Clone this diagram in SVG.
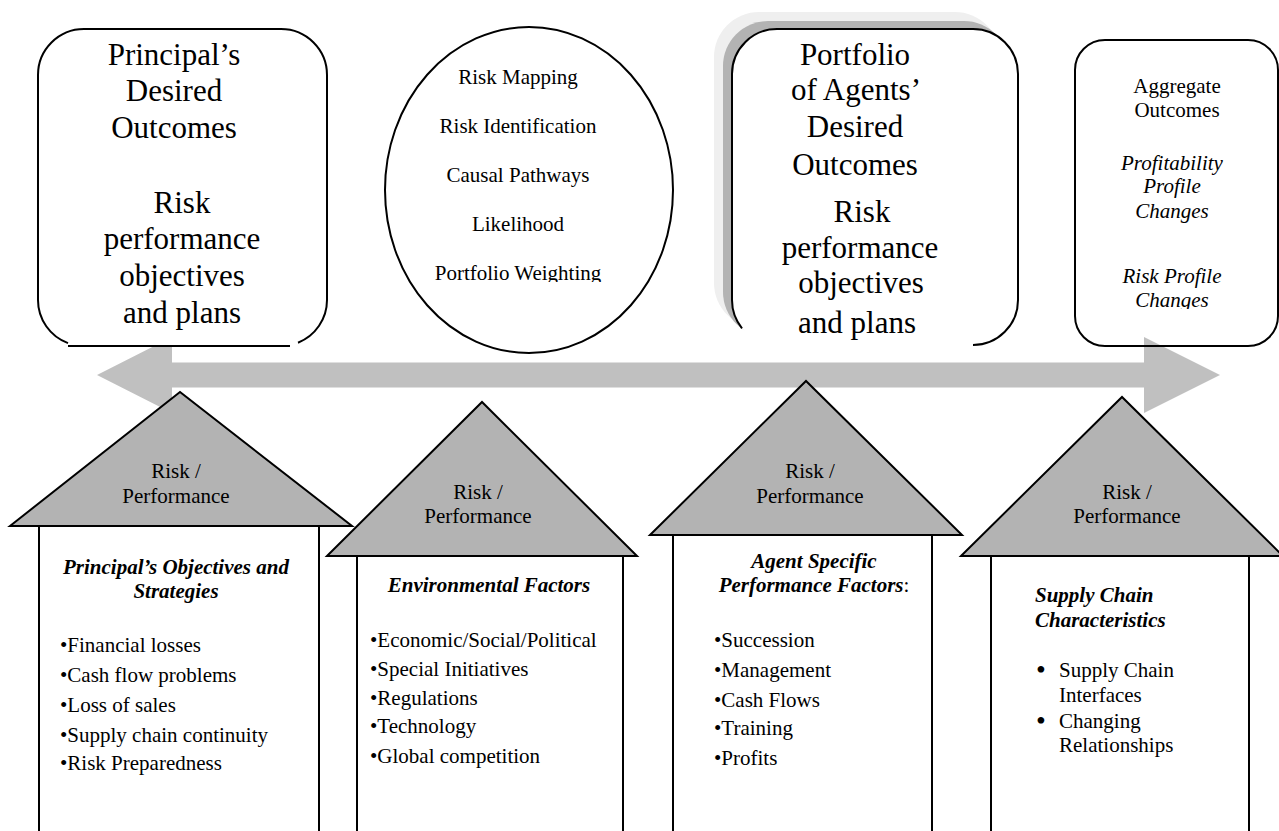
<svg xmlns="http://www.w3.org/2000/svg" width="1279" height="831" viewBox="0 0 1279 831">
<style>
text{font-family:"Liberation Serif","Times New Roman",serif;fill:#000}
.big{font-size:31px;text-anchor:middle}
.md{font-size:21px}
.c{text-anchor:middle}
.bi{font-weight:bold;font-style:italic}
.it{font-style:italic}
.ln{fill:none;stroke:#000;stroke-width:2}
.roof{fill:#b3b3b3;stroke:#000;stroke-width:2;stroke-linejoin:miter}
.body{fill:#fff;stroke:#000;stroke-width:2}
.dot{font-size:28px}
</style>
<defs>
<clipPath id="clipCircle"><rect x="380" y="20" width="300" height="262"/></clipPath>
<clipPath id="clipAgg"><rect x="1075" y="40" width="204" height="269"/></clipPath>
</defs>

<g id="connectors">
<polygon points="97,375 172,337 172,362.5 1144,362.5 1144,337 1220,375 1144,413 1144,387.5 172,387.5 172,413" fill="#c0c0c0"/>
</g>

<g id="principal-outcomes">
<rect x="38" y="29" width="289" height="317" rx="46" fill="#fff"/>
<path class="ln" d="M68 343.1A46 46 0 0 1 38 300V75A46 46 0 0 1 84 29H281A46 46 0 0 1 327 75V300A46 46 0 0 1 298 342.7"/>
<path class="ln" d="M68 346H290"/>
<text class="big" x="174" y="65">Principal’s</text>
<text class="big" x="174" y="101">Desired</text>
<text class="big" x="174" y="138">Outcomes</text>
<text class="big" x="182" y="213">Risk</text>
<text class="big" x="182" y="249">performance</text>
<text class="big" x="182" y="286">objectives</text>
<text class="big" x="182" y="323">and plans</text>
</g>

<g id="risk-mapping">
<ellipse cx="529" cy="190" rx="144" ry="163" fill="#fff" stroke="#000" stroke-width="2"/>
<g clip-path="url(#clipCircle)" class="md">
<text class="c" x="518" y="84">Risk Mapping</text>
<text class="c" x="518" y="133">Risk Identification</text>
<text class="c" x="518" y="182">Causal Pathways</text>
<text class="c" x="518" y="231">Likelihood</text>
<text class="c" x="518" y="280">Portfolio Weighting</text>
</g>
</g>

<g id="agents-outcomes">
<rect x="714" y="12" width="286" height="316" rx="45" fill="#efefef"/>
<rect x="723" y="21" width="286" height="316" rx="45" fill="#b3b3b3"/>
<rect x="732" y="29" width="286" height="316" rx="45" fill="#fff"/>
<path class="ln" d="M742 328.3A45 45 0 0 1 732 300V74A45 45 0 0 1 777 29H973A45 45 0 0 1 1018 74V300A45 45 0 0 1 973 345"/>
<text class="big" x="855" y="65">Portfolio</text>
<text class="big" x="856" y="100">of Agents’</text>
<text class="big" x="855" y="137">Desired</text>
<text class="big" x="855" y="175">Outcomes</text>
<text class="big" x="862" y="222">Risk</text>
<text class="big" x="860" y="258">performance</text>
<text class="big" x="861" y="293">objectives</text>
<text class="big" x="857" y="333">and plans</text>
</g>

<g id="aggregate-outcomes">
<rect x="1075" y="40" width="203" height="306" rx="30" class="ln"/>
<g clip-path="url(#clipAgg)" class="md">
<text class="c" x="1177" y="93">Aggregate</text>
<text class="c" x="1177" y="117">Outcomes</text>
<text class="c it" x="1172" y="170">Profitability</text>
<text class="c it" x="1172" y="193">Profile</text>
<text class="c it" x="1172" y="218">Changes</text>
<text class="c it" x="1172" y="283">Risk Profile</text>
<text class="c it" x="1172" y="307">Changes</text>
</g>
</g>

<g id="house-principal">
<rect class="body" x="39" y="526" width="280" height="320"/>
<polygon class="roof" points="10,526 180,392 352,526"/>
<g class="md">
<text class="c" x="176" y="478">Risk /</text>
<text class="c" x="176" y="503">Performance</text>
<text class="c bi" x="176" y="574">Principal’s Objectives and</text>
<text class="c bi" x="176" y="598">Strategies</text>
<text x="60" y="652">•Financial losses</text>
<text x="60" y="682">•Cash flow problems</text>
<text x="60" y="712">•Loss of sales</text>
<text x="60" y="742">•Supply chain continuity</text>
<text x="60" y="770">•Risk Preparedness</text>
</g>
</g>

<g id="house-environment">
<rect class="body" x="357" y="556" width="266" height="290"/>
<polygon class="roof" points="327,556 482,402 637,556"/>
<g class="md">
<text class="c" x="478" y="499">Risk /</text>
<text class="c" x="478" y="523">Performance</text>
<text class="c bi" x="489" y="592">Environmental Factors</text>
<text x="370" y="647">•Economic/Social/Political</text>
<text x="370" y="676">•Special Initiatives</text>
<text x="370" y="705">•Regulations</text>
<text x="370" y="733">•Technology</text>
<text x="370" y="763">•Global competition</text>
</g>
</g>

<g id="house-agent">
<rect class="body" x="673" y="535" width="259" height="311"/>
<polygon class="roof" points="650,535 806,381 962,535"/>
<g class="md">
<text class="c" x="810" y="478">Risk /</text>
<text class="c" x="810" y="503">Performance</text>
<text class="c bi" x="814" y="568">Agent Specific</text>
<text class="c" x="814" y="592"><tspan class="bi">Performance Factors</tspan>:</text>
<text x="714" y="647">•Succession</text>
<text x="714" y="677">•Management</text>
<text x="714" y="707">•Cash Flows</text>
<text x="714" y="735">•Training</text>
<text x="714" y="765">•Profits</text>
</g>
</g>

<g id="house-supply">
<rect class="body" x="991" y="556" width="258" height="290"/>
<polygon class="roof" points="961,556 1122,397 1283,556"/>
<g class="md">
<text class="c" x="1127" y="499">Risk /</text>
<text class="c" x="1127" y="523">Performance</text>
<text class="bi" x="1035" y="602">Supply Chain</text>
<text class="bi" x="1035" y="627">Characteristics</text>
<text class="dot" x="1036" y="679">•</text>
<text x="1059" y="677">Supply Chain</text>
<text x="1059" y="702">Interfaces</text>
<text class="dot" x="1036" y="730">•</text>
<text x="1059" y="728">Changing</text>
<text x="1059" y="752">Relationships</text>
</g>
</g>
</svg>
